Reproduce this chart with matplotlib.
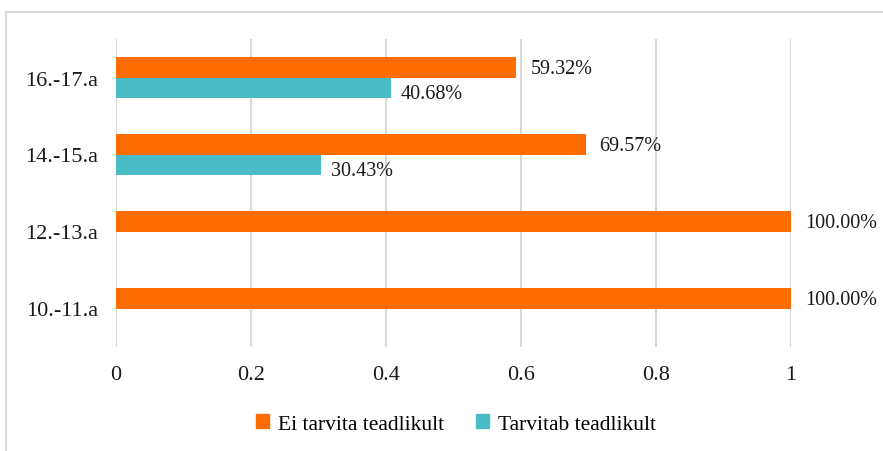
import matplotlib
matplotlib.use("Agg")
import matplotlib.pyplot as plt
from matplotlib.patches import Rectangle, Patch
import numpy as np

categories = ["10.-11.a", "12.-13.a", "14.-15.a", "16.-17.a"]
ei_tarvita = [1.0, 1.0, 0.6957, 0.5932]
tarvitab = [0.0, 0.0, 0.3043, 0.4068]
series_names = ["Ei tarvita teadlikult", "Tarvitab teadlikult"]
xticks = [0, 0.2, 0.4, 0.6, 0.8, 1]
xtick_labels = ["0", "0.2", "0.4", "0.6", "0.8", "1"]

ORANGE = "#FF6C00"
TEAL = "#4ABCC6"
GRID = "#D9D9D9"

plt.rcParams["font.family"] = ["Liberation Serif", "DejaVu Serif"]

fig = plt.figure(figsize=(8.83, 4.52), dpi=100)
ax = fig.add_axes([116/883, 1-348/452, (791-116)/883, (348-40)/452])

y = np.arange(len(categories))
h = 0.26
off = 0.13
ax.barh(y + off, ei_tarvita, height=h, color=ORANGE, zorder=2)
ax.barh(y - off, tarvitab, height=h, color=TEAL, zorder=2)

for yi, v in zip(y, ei_tarvita):
    if v > 0:
        ax.annotate(f"{v*100:.2f}%", (v, yi + off), xytext=(10, -1), textcoords="offset points",
                    va="center", ha="left", fontsize=14.5, color="#1a1a1a")
for yi, v in zip(y, tarvitab):
    if v > 0:
        ax.annotate(f"{v*100:.2f}%", (v, yi - off), xytext=(7, -4), textcoords="offset points",
                    va="center", ha="left", fontsize=14.5, color="#1a1a1a")

ax.set_xlim(0, 1)
ax.set_ylim(-0.5, 3.5)
ax.set_xticks(xticks)
ax.set_xticklabels(xtick_labels)
ax.set_yticks(y)
ax.set_yticklabels(categories)
ax.tick_params(axis="x", length=0, pad=13, labelsize=16, colors="#1a1a1a")
ax.tick_params(axis="y", length=0, pad=13, labelsize=16, colors="#1a1a1a")
ax.set_axisbelow(True)
ax.xaxis.grid(True, color=GRID, linewidth=1.5)
ax.yaxis.grid(False)
for s in ax.spines.values():
    s.set_visible(False)

handles = [Patch(color=ORANGE), Patch(color=TEAL)]
fig.legend(handles, series_names, loc="center", bbox_to_anchor=(456/883, 1-425/452),
           ncol=2, frameon=False, fontsize=15.5, handlelength=0.6, handleheight=0.6,
           handletextpad=0.4, columnspacing=1.5)

fig.add_artist(Rectangle((6/883, -0.2), 1.2, 1.2 - 13/452, transform=fig.transFigure,
                         fill=False, edgecolor=GRID, linewidth=1.5))

fig.savefig("out.png", dpi=100)
